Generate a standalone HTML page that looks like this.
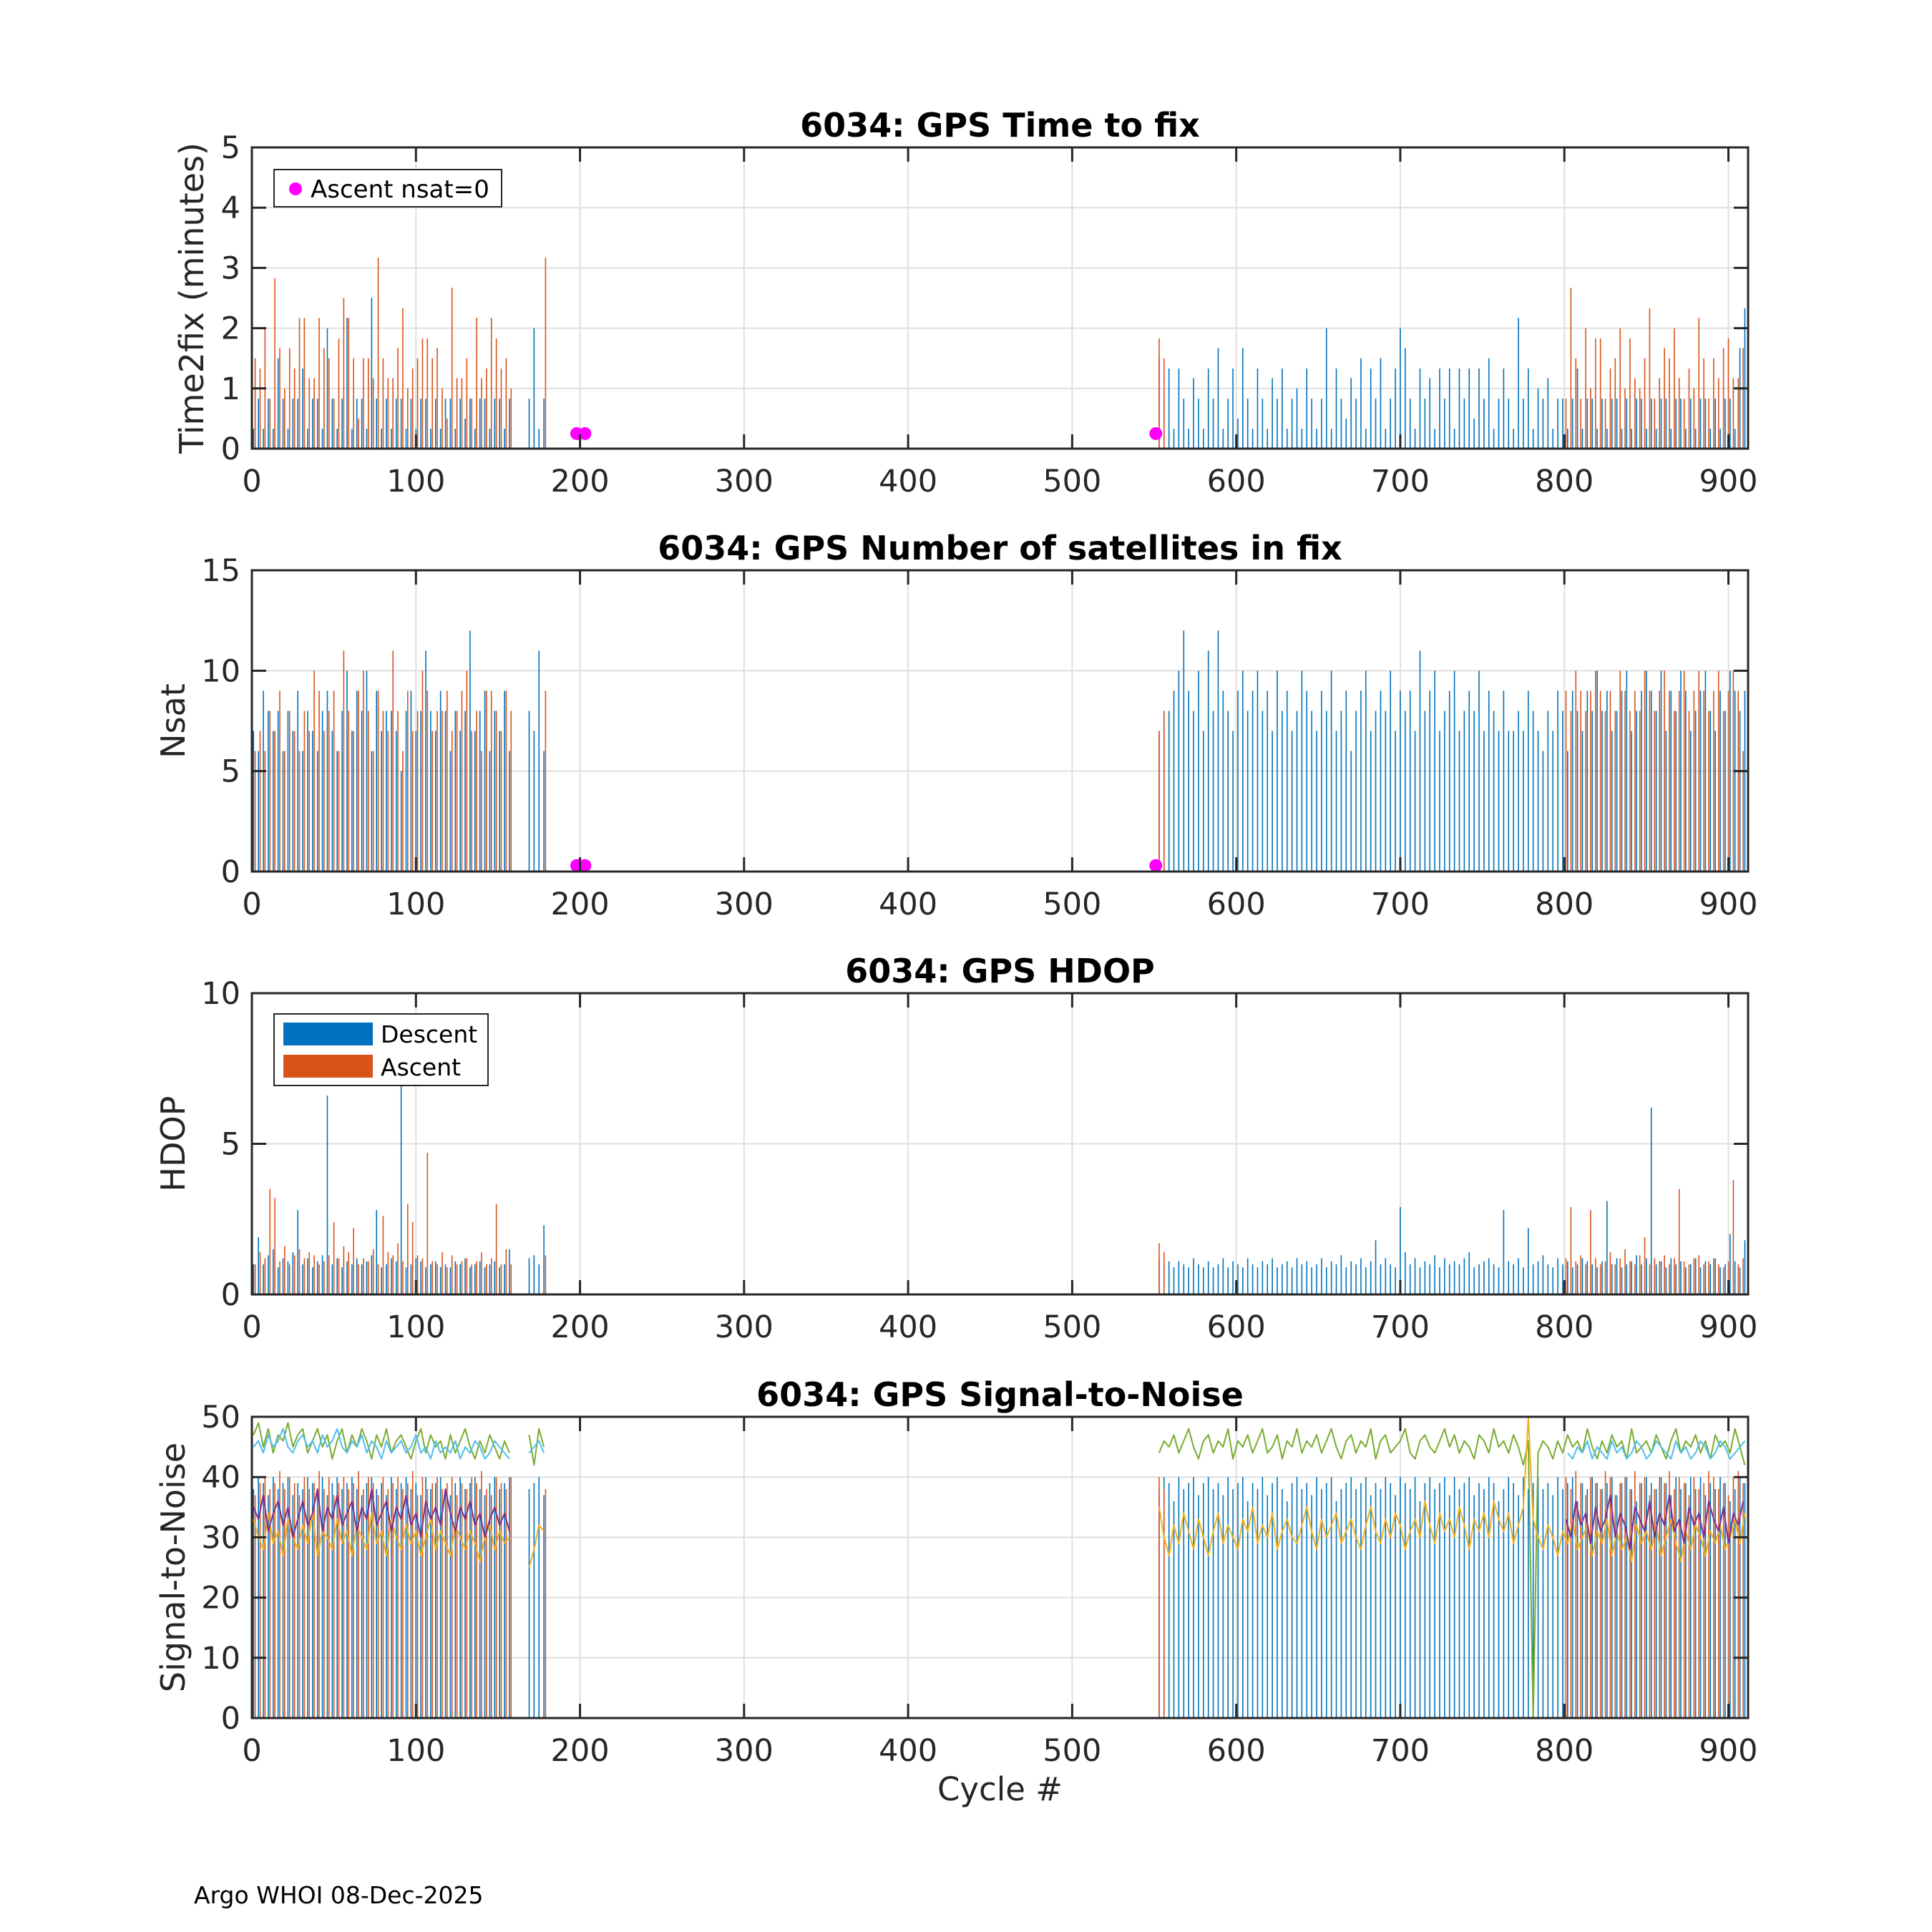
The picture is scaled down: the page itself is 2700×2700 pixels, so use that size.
<!DOCTYPE html>
<html><head><meta charset="utf-8"><style>
html,body{margin:0;padding:0;background:#fff;}
svg{display:block;font-family:"DejaVu Sans","Liberation Sans",sans-serif;}
</style></head><body>
<svg id="fig" width="2700" height="2700" viewBox="0 0 2700 2700"></svg>
<script>
// ---- data (cycle numbers) ----
const cycA = []; for (let c = 1; c <= 178; c += 3) cycA.push(c);
const cycAa = []; for (let c = 2; c <= 179; c += 3) cycAa.push(c);
const cycB = []; for (let c = 553; c <= 910; c += 3) cycB.push(c);
const cycBa = [553, 556]; for (let c = 801; c <= 909; c += 3) cycBa.push(c);
const cycCyanB = []; for (let c = 802; c <= 910; c += 3) cycCyanB.push(c);
const nsat0Cycles = [198, 203, 551];
const nsat0Time = [0.25, 0.25, 0.25];
const nsat0Nsat = [0.3, 0.3, 0.3];

const t2fDescA = [0.33,0.83,0.33,0.83,0.33,1.5,0.83,0.33,0.83,0.83,1.33,0.33,0.83,0.83,0.33,2.0,0.83,0.33,0.83,2.17,0.33,0.83,0.83,0.33,2.5,0.83,0.33,0.83,0.33,0.83,0.83,0.33,0.83,0.33,0.83,0.83,0.33,0.83,0.33,0.83,0.83,0.33,0.83,0.5,0.83,0.33,0.83,0.83,0.33,0.83,0.83,0.33,0.83,null,null,null,0.83,2.0,0.33,0.83];
const t2fAscA = [1.5,1.33,2.0,0.83,2.83,1.67,1.0,1.67,1.33,2.17,2.17,1.17,1.17,2.17,1.67,1.5,0.83,1.83,2.5,2.17,1.5,0.5,1.5,1.5,1.17,3.17,1.5,1.17,1.17,1.67,2.33,1.0,1.33,1.5,1.83,1.83,1.5,1.67,1.0,0.5,2.67,1.17,1.17,1.5,0.83,2.17,1.17,1.33,2.17,1.83,1.33,1.5,1.0,null,null,null,null,null,null,3.17];
const t2fDescB = [1.5,0.83,1.33,0.33,1.33,0.83,0.33,1.17,0.83,0.33, 1.33,0.83,1.67,0.33,0.83,1.33,0.5,1.67,0.83,0.33, 1.33,0.83,0.33,1.17,0.83,1.33,0.33,0.83,1.0,0.33, 1.33,0.83,0.33,0.83,2.0,0.33,1.33,0.83,0.5,1.17, 0.83,1.5,0.33,1.33,0.83,1.5,0.33,0.83,1.33,2.0, 1.67,0.83,0.33,1.33,0.83,1.17,0.33,1.33,0.83,1.33, 0.33,1.33,0.83,1.33,0.5,1.33,0.83,1.5,0.33,0.83, 1.33,0.83,0.33,2.17,0.83,1.33,0.33,1.0,0.83,1.17, 0.33,0.83,0.83,0.33,0.83,1.33,0.33,0.83,0.83,0.33, 0.83,0.33,0.83,0.83,0.33,0.83,0.33,0.83,0.83,0.33, 0.83,0.33,0.83,0.83,0.33,0.83,0.83,0.33,0.83,0.33, 0.83,0.83,0.33,0.83,0.33,0.83,0.83,0.33,1.67,2.33];
const t2fAscB = [1.83,1.5, 0.83,2.67,1.5,0.83,2.0,1.0,1.83,1.83,0.83,1.33,1.5,2.0,1.0,1.83,1.17,1.0,1.5,2.33,0.83,1.17,1.67,1.5,2.0,1.17,0.83,1.33,1.0,2.17,1.5,0.83,1.5,1.17,1.67,1.83,1.17,1.17,1.67];

const nsDescA = [7,6,9,8,7,8,6,8,7,9, 6,8,7,6,8,9,7,6,8,10, 7,9,8,10,6,9,7,8,8,7, 5,8,9,7,8,11,8,7,9,8, 6,8,7,8,12,7,8,9,6,8, 7,9,6,null,null,null,8,7,11,6];
const nsAscA = [6,7,6,8,7,9,6,8,7,6, 8,7,10,9,7,8,9,6,11,8, 7,9,10,8,6,9,8,7,11,8, 6,9,7,8,10,9,7,8,8,9, 7,8,9,10,7,8,6,9,9,8, 7,9,8,null,null,null,null,null,null,9];
const nsDescB = [7,8,8,9,10,12,9,8,10,7, 11,8,12,9,8,7,9,10,8,9, 10,8,9,7,10,8,9,7,8,10, 9,8,7,9,8,10,7,8,9,6, 8,9,10,7,8,9,8,10,7,9, 8,9,7,11,8,9,10,7,8,9, 10,7,8,9,8,10,7,9,8,7, 9,7,7,8,7,9,8,7,6,8, 7,9,8,6,9,8,7,9,8,10, 8,9,7,8,9,10,7,8,9,10, 9,8,10,7,9,8,10,9,7,8, 9,10,8,7,9,8,10,9,8,9];
const nsAscB = [7,8, 9,8,10,9,8,9,10,9,8,9, 8,10,9,8,9,8,10,9,8,9, 10,9,8,9,10,8,9,10,9,8, 9,10,8,9,10,9,6];

const hdDescA = [1.0,1.9,1.0,1.3,1.5,0.9,1.2,1.1,1.4,2.8, 1.0,1.2,0.9,1.1,1.3,6.6,1.0,1.2,0.9,1.1, 1.0,1.2,1.0,1.1,1.3,2.8,0.9,1.0,1.2,1.1, 7.0,0.9,1.0,1.2,1.1,0.9,1.0,1.1,0.9,1.0, 0.9,1.1,1.0,1.2,0.9,1.0,1.1,0.9,1.0,1.1, 0.9,1.0,1.5,null,null,null,1.2,1.3,1.0,2.3];
const hdAscA = [1.0,1.4,1.2,3.5,3.2,1.1,1.6,1.0,1.3,1.5, 1.2,1.4,1.3,1.0,1.1,1.3,2.4,1.2,1.6,1.4, 2.2,1.0,1.2,1.1,1.5,1.0,2.6,1.4,1.3,1.7, 1.1,3.0,2.4,1.3,1.2,4.7,1.1,1.0,1.4,0.9, 1.3,1.0,1.1,1.2,1.0,1.1,1.4,1.0,1.2,3.0, 1.0,1.5,1.0,null,null,null,null,null,null,1.3];
const hdDescB = [1.2,1.0,1.1,0.9,1.1,1.0,0.9,1.2,1.0,0.9, 1.1,0.9,1.0,1.2,0.9,1.1,1.0,0.9,1.2,1.0, 0.9,1.1,1.0,1.2,0.9,1.0,1.1,0.9,1.2,1.0, 1.1,0.9,1.0,1.2,0.9,1.1,1.0,1.3,0.9,1.1, 1.0,1.2,0.9,1.1,1.8,1.0,1.2,1.0,0.9,2.9, 1.4,1.0,1.2,0.9,1.1,1.0,1.3,0.9,1.2,1.0, 1.1,1.0,1.2,1.4,0.9,1.0,1.1,1.2,1.0,0.9, 2.8,1.1,1.0,1.2,0.9,2.2,1.0,1.1,1.3,1.0, 0.9,1.2,1.0,1.1,0.9,1.0,1.2,1.1,1.0,0.9, 1.1,3.1,1.0,1.2,0.9,1.0,1.1,1.3,1.0,1.2, 6.2,1.0,1.1,0.9,1.2,1.0,1.1,0.9,1.0,1.2, 0.9,1.1,1.0,1.2,0.9,1.0,2.0,1.1,0.9,1.8];
const hdAscB = [1.7,1.4, 1.2,2.9,1.1,1.3,1.0,2.8,1.2,1.0,1.1,1.4, 1.0,1.2,1.5,1.1,1.0,1.3,1.9,1.0,1.2,1.1, 1.3,1.0,1.2,3.5,1.1,1.0,1.2,1.3,1.0,1.1, 1.2,1.0,0.9,1.1,3.8,1.0,1.2];

const snDescA = [38,40,39,37,40,38,39,40,37,39, 38,40,39,38,40,37,39,40,38,39, 40,38,37,39,40,38,39,37,40,38, 39,40,38,39,37,40,38,39,40,38, 37,39,40,38,39,40,38,37,39,40, 38,39,40,null,null,null,38,39,40,37];
const snAscA = [37,39,40,38,39,41,38,40,39,37, 40,38,39,41,38,40,37,39,40,38, 39,41,38,40,39,37,40,38,39,40, 38,39,41,37,40,38,39,40,38,39, 40,37,39,38,40,39,41,38,37,40, 39,38,40,null,null,null,null,null,null,38];
const snDescB = [38,40,39,36,40,38,39,40,37,39, 40,38,39,37,40,38,39,40,36,39, 38,40,37,39,40,38,36,39,40,38, 39,37,40,38,39,40,36,38,39,40, 38,39,40,37,39,38,40,39,37,40, 39,38,40,36,39,40,38,39,40,37, 40,38,39,40,37,39,38,40,39,36, 38,40,39,37,40,38,39,40,38,39, 37,40,38,39,40,36,39,38,40,39, 38,39,40,37,39,40,38,36,39,40, 39,38,40,39,37,40,38,39,40,38, 40,37,39,38,40,39,36,38,40,39];
const snAscB = [40,38, 40,38,41,39,37,40,39,38,41,40, 37,39,40,38,41,39,40,37,38,40, 39,41,38,40,39,37,40,38,39,41, 40,38,39,37,40,41,39];

const greenA = [47,49,45,48,44,47,46,49,45,47, 48,44,46,48,45,47,43,46,48,44, 47,45,48,46,43,47,45,48,44,46, 47,45,43,46,48,44,47,45,46,43, 47,44,46,48,45,43,46,44,47,45, 43,46,44,null,null,null,47,42,48,45];
const cyanA = [45,46,44,47,45,46,48,45,44,46, 47,45,46,44,47,45,46,48,45,44, 46,45,47,44,46,45,43,46,44,45, 46,44,45,47,44,45,43,46,44,45, 44,46,43,45,44,46,45,43,44,46, 45,44,43,null,null,null,44,45,46,44];
const yellowA = [33,30,28,34,29,31,27,33,30,28, 32,29,34,27,31,30,28,33,29,31, 27,32,30,28,34,29,31,27,33,30, 28,32,29,31,27,30,33,28,31,29, 27,32,30,28,31,29,26,30,32,28, 31,29,30,null,null,null,25,28,32,31];
const purpleA = [35,33,37,31,34,36,32,35,30,33, 36,32,34,38,31,35,33,37,32,34, 36,31,35,33,38,32,34,36,31,35, 33,37,32,34,30,36,33,35,32,38, 34,31,35,33,36,32,34,30,33,35, 32,34,31,null,null,null,null,null,null,null];
const greenB = [44,46,45,47,44,46,48,45,43,46, 47,44,46,45,48,43,46,45,47,44, 46,48,44,45,47,43,46,45,48,44, 46,45,47,44,46,48,45,43,46,47, 44,46,45,48,43,46,47,44,45,46, 48,44,43,46,47,45,44,46,48,45, 47,44,46,45,43,47,46,44,48,45, 46,44,47,45,42,46,0,44,46,45, 43,46,44,47,45,46,44,48,45,43, 46,44,47,45,46,43,48,44,45,46, 44,47,45,43,46,48,44,46,45,47, 44,46,43,47,45,46,44,48,45,42];
const yellowB = [35,30,27,32,29,34,31,28,33,30, 27,31,34,29,32,30,28,33,31,35, 29,32,30,34,28,31,33,30,29,32, 35,31,28,33,30,32,34,29,31,33, 30,28,32,35,31,29,33,30,34,32, 28,31,33,30,36,32,29,34,31,33, 30,35,32,28,33,31,34,30,36,33, 31,34,29,32,35,50,33,30,28,32, 30,27,31,29,33,28,30,32,27,31, 29,33,27,31,28,30,26,32,29,31, 28,32,27,30,33,29,26,31,28,32, 30,27,31,29,32,28,30,33,29,34];
const cyanB = [44,43,45,44,46,43,45,44,43,46, 44,45,43,44,46,45,43,44,46,45, 44,43,46,44,45,43,44,46,45,43, 44,46,45,43,44,45,46];
const purpleB = [33,30,36,32,34,29,35,31,33,37, 30,34,32,28,35,33,31,36,30,34, 32,37,31,33,29,35,32,34,30,36, 33,31,35,29,34,32,36];

const xTicks = [0,100,200,300,400,500,600,700,800,900];
const titles = ["6034: GPS Time to fix","6034: GPS Number of satellites in fix","6034: GPS HDOP","6034: GPS Signal-to-Noise"];
const yLabels = ["Time2fix (minutes)","Nsat","HDOP","Signal-to-Noise"];
const yMaxes = [5,15,10,50];
const yTickSets = [[0,1,2,3,4,5],[0,5,10,15],[0,5,10],[0,10,20,30,40,50]];

// ---- layout ----
const NS = "http://www.w3.org/2000/svg";
const svg = document.getElementById("fig");
const L = 352, R = 2443, H = 421, XMAX = 912;
const tops = [206, 797, 1388, 1980];
const BLUE = "#0072BD", ORANGE = "#D95319";
function xs(c){ return L + c / XMAX * (R - L); }
function mk(tag, attrs, parent){ const e = document.createElementNS(NS, tag); for (const k in attrs) e.setAttribute(k, attrs[k]); (parent||svg).appendChild(e); return e; }

function bars(g, cycles, vals, ys, color, name){
  for (let i = 0; i < cycles.length; i++){
    const v = vals[i]; if (v === null || v === undefined) continue;
    const y = ys(v), y0 = ys(0);
    const r = mk("rect", {x: xs(cycles[i]) - 0.8, y: y, width: 1.6, height: Math.max(0, y0 - y), fill: color}, g);
    
    
  }
}
function line(g, cycles, vals, ys, color, name){
  let d = "", pen = false;
  for (let i = 0; i < cycles.length; i++){
    const v = vals[i];
    if (v === null || v === undefined){ pen = false; continue; }
    d += (pen ? "L" : "M") + xs(cycles[i]).toFixed(1) + "," + ys(v).toFixed(1);
    pen = true;
  }
  const p = mk("path", {d: d, fill: "none", stroke: color, "stroke-width": 2, "stroke-linejoin": "round"}, g);
  
  
}

for (let k = 0; k < 4; k++){
  const T = tops[k], B = T + H, ymax = yMaxes[k];
  const ys = v => B - v / ymax * H;
  const g = mk("g", {});
  
  
  for (const t of xTicks){ if (t===0) continue; const ln = mk("line", {x1: xs(t), x2: xs(t), y1: T, y2: B, stroke: "#dfdfdf", "stroke-width": 2}, g);   }
  for (const t of yTickSets[k]){ if (t===0||t===ymax) continue; const ln = mk("line", {x1: L, x2: R, y1: ys(t), y2: ys(t), stroke: "#dfdfdf", "stroke-width": 2}, g);   }
  let dA, aA, dB, aB;
  if (k===0){ dA=t2fDescA; aA=t2fAscA; dB=t2fDescB; aB=t2fAscB; }
  if (k===1){ dA=nsDescA; aA=nsAscA; dB=nsDescB; aB=nsAscB; }
  if (k===2){ dA=hdDescA; aA=hdAscA; dB=hdDescB; aB=hdAscB; }
  if (k===3){ dA=snDescA; aA=snAscA; dB=snDescB; aB=snAscB; }
  bars(g, cycA, dA, ys, BLUE, 'descent-bar');
  bars(g, cycAa, aA, ys, ORANGE, 'ascent-bar');
  bars(g, cycB, dB, ys, BLUE, 'descent-bar');
  bars(g, cycBa, aB, ys, ORANGE, 'ascent-bar');
  if (k===3){
    line(g, cycA, greenA, ys, "#77AC30", 'snr-line-green');
    line(g, cycB, greenB, ys, "#77AC30", 'snr-line-green');
    line(g, cycA, cyanA, ys, "#4DBEEE", 'snr-line-cyan');
    line(g, cycCyanB, cyanB, ys, "#4DBEEE", 'snr-line-cyan');
    line(g, cycA, yellowA, ys, "#EDB120", 'snr-line-yellow');
    line(g, cycB, yellowB, ys, "#EDB120", 'snr-line-yellow');
    line(g, cycA, purpleA, ys, "#7E2F8E", 'snr-line-purple');
    line(g, cycBa.slice(2), purpleB, ys, "#7E2F8E", 'snr-line-purple');
  }
  if (k===0 || k===1){
    const vals = k===0 ? nsat0Time : nsat0Nsat;
    for (let i = 0; i < nsat0Cycles.length; i++){
      const c = mk("circle", {cx: xs(nsat0Cycles[i]), cy: ys(vals[i]), r: 9, fill: "#FF00FF"}, g);
      
      
    }
  }
  const box = mk("rect", {x: L, y: T, width: R-L, height: H, fill: "none", stroke: "#262626", "stroke-width": 3}, g);
  
  
  for (const t of xTicks){
    const x = xs(t);
    mk("line", {x1: x, x2: x, y1: B, y2: B-20, stroke: "#262626", "stroke-width": 3}, g);
    mk("line", {x1: x, x2: x, y1: T, y2: T+20, stroke: "#262626", "stroke-width": 3}, g);
    const tx = mk("text", {x: x, y: B + 60, "font-size": 43, fill: "#262626", "text-anchor": "middle"}, g);
    tx.textContent = t;
    
    
  }
  for (const t of yTickSets[k]){
    const y = ys(t);
    mk("line", {x1: L, x2: L+20, y1: y, y2: y, stroke: "#262626", "stroke-width": 3}, g);
    mk("line", {x1: R, x2: R-20, y1: y, y2: y, stroke: "#262626", "stroke-width": 3}, g);
    const tx = mk("text", {x: L - 16, y: y + 15, "font-size": 43, fill: "#262626", "text-anchor": "end"}, g);
    tx.textContent = t;
    
    
  }
  const tt = mk("text", {x: (L+R)/2, y: T - 15, "font-size": 46, "font-weight": "bold", fill: "#000", "text-anchor": "middle"}, g);
  tt.textContent = titles[k];
  
  
  const lx = k===0 ? 284 : 258;
  const yl = mk("text", {x: lx, y: T + H/2, "font-size": 46, fill: "#262626", "text-anchor": "middle", transform: "rotate(-90 " + lx + " " + (T+H/2) + ")"}, g);
  yl.textContent = yLabels[k];
  
  
}

const lg1 = mk("g", {});


mk("rect", {x: 383, y: 237, width: 318, height: 52, fill: "#fff", stroke: "#262626", "stroke-width": 2}, lg1);
mk("circle", {cx: 413, cy: 264, r: 9, fill: "#FF00FF"}, lg1);
const lt1 = mk("text", {x: 434, y: 276, "font-size": 34, fill: "#000"}, lg1);
lt1.textContent = "Ascent nsat=0";

const lg2 = mk("g", {});


mk("rect", {x: 383, y: 1417, width: 299, height: 100, fill: "#fff", stroke: "#262626", "stroke-width": 2}, lg2);
mk("rect", {x: 396, y: 1429, width: 125, height: 32, fill: BLUE}, lg2);
mk("rect", {x: 396, y: 1474, width: 125, height: 32, fill: ORANGE}, lg2);
const lt2 = mk("text", {x: 532, y: 1457, "font-size": 33, fill: "#000"}, lg2); lt2.textContent = "Descent";
const lt3 = mk("text", {x: 532, y: 1503, "font-size": 33, fill: "#000"}, lg2); lt3.textContent = "Ascent";

const xl = mk("text", {x: (L+R)/2, y: 2516, "font-size": 45, fill: "#262626", "text-anchor": "middle"});
xl.textContent = "Cycle #";


const ft = mk("text", {x: 271, y: 2660, "font-size": 33, fill: "#000"});
ft.textContent = "Argo WHOI 08-Dec-2025";


</script>
</body></html>
